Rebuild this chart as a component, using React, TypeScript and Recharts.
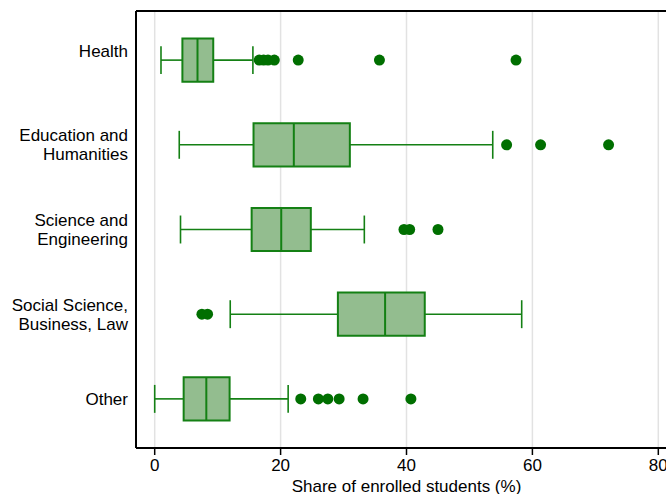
import React from "react";
import {
  ComposedChart,
  XAxis,
  YAxis,
  CartesianGrid,
  Scatter,
  ReferenceArea,
  ReferenceLine,
} from "recharts";

const categories = [
  "Health",
  "Education and Humanities",
  "Science and Engineering",
  "Social Science, Business, Law",
  "Other",
];
const labelLines: string[][] = [
  ["Health", ""],
  ["Education and", "Humanities"],
  ["Science and", "Engineering"],
  ["Social Science,", "Business, Law"],
  ["Other"],
];
const positions = [1, 2, 3, 4, 5];
const whiskerLow = [1.0, 3.9, 4.1, 12.0, 0.0];
const q1 = [4.4, 15.7, 15.4, 29.1, 4.6];
const median = [6.8, 22.1, 20.1, 36.6, 8.2];
const q3 = [9.3, 31.0, 24.8, 42.9, 11.9];
const whiskerHigh = [15.6, 53.7, 33.3, 58.3, 21.2];
const outliers: number[][] = [
  [16.6, 17.3, 18.0, 19.0, 22.8, 35.7, 57.4],
  [55.9, 61.3, 72.1],
  [39.6, 40.5, 45.0],
  [7.5, 8.4],
  [23.2, 26.0, 27.5, 29.3, 33.1, 40.7],
];
const xTicks = [0, 20, 40, 60, 80];
const xDomain: [number, number] = [-2.97, 82.97];
const yDomain: [number, number] = [0.42, 5.58];

const BOX_HALF = 0.255;
const CAP_HALF = 0.165;
const GREEN = "#148014";
const FILL = "#93bd8f";
const DOT = "#006f00";
const FONT = "'Liberation Sans', Arial, Helvetica, sans-serif";
const FS = 17;

const outlierData = outliers.flatMap((vals, i) =>
  vals.map((v) => ({ x: v, y: positions[i] }))
);

const YTick = (props: any) => {
  const { x, y, payload } = props;
  const idx = positions.indexOf(payload.value);
  const lines = idx >= 0 ? labelLines[idx] : [];
  const lh = 19;
  const startY = y - ((lines.length - 1) * lh) / 2;
  return (
    <text
      x={x}
      y={startY}
      textAnchor="end"
      fontFamily={FONT}
      fontSize={FS}
      fill="#000"
      dominantBaseline="central"
    >
      {lines.map((l, k) => (
        <tspan key={k} x={x} y={startY + k * lh} dominantBaseline="central">
          {l}
        </tspan>
      ))}
    </text>
  );
};

const Dot = (props: any) => {
  const { cx, cy } = props;
  return <circle cx={cx} cy={cy} r={5.5} fill={DOT} />;
};

export default function App() {
  return (
    <div
      style={{
        position: "absolute",
        left: 0,
        top: 0,
        width: 666,
        height: 494,
        overflow: "hidden",
        background: "#fff",
      }}
    >
      <ComposedChart
        width={690}
        height={494}
        margin={{ top: 11, right: 13, bottom: 0, left: 0 }}
      >
        <CartesianGrid
          horizontal={false}
          vertical={true}
          stroke="#e2e2e2"
          strokeWidth={1.5}
        />
        <XAxis
          type="number"
          dataKey="x"
          domain={xDomain}
          ticks={xTicks}
          allowDataOverflow
          height={46}
          axisLine={{ stroke: "#000", strokeWidth: 2 }}
          tickLine={{ stroke: "#000", strokeWidth: 1.5 }}
          tickSize={7}
          tickMargin={4}
          tick={{ fontFamily: FONT, fontSize: FS, fill: "#000" }}
          label={{
            value: "Share of enrolled students (%)",
            position: "insideBottom",
            offset: 2,
            fontFamily: FONT,
            fontSize: FS,
            fill: "#000",
          }}
        />
        <YAxis
          type="number"
          dataKey="y"
          domain={yDomain}
          ticks={positions}
          reversed
          allowDataOverflow
          width={136}
          axisLine={{ stroke: "#000", strokeWidth: 2 }}
          tickLine={false}
          tickMargin={2}
          tick={<YTick />}
        />
        <ReferenceLine
          y={yDomain[0]}
          stroke="#000"
          strokeWidth={2}
          ifOverflow="visible"
        />
        <ReferenceLine
          x={xDomain[1]}
          stroke="#000"
          strokeWidth={2}
          ifOverflow="visible"
        />
        {positions.map((p, i) => (
          <ReferenceLine
            key={"wl" + i}
            segment={[
              { x: whiskerLow[i], y: p },
              { x: q1[i], y: p },
            ]}
            stroke={GREEN}
            strokeWidth={1.6}
            ifOverflow="visible"
          />
        ))}
        {positions.map((p, i) => (
          <ReferenceLine
            key={"wh" + i}
            segment={[
              { x: q3[i], y: p },
              { x: whiskerHigh[i], y: p },
            ]}
            stroke={GREEN}
            strokeWidth={1.6}
            ifOverflow="visible"
          />
        ))}
        {positions.map((p, i) => (
          <ReferenceLine
            key={"cl" + i}
            segment={[
              { x: whiskerLow[i], y: p - CAP_HALF },
              { x: whiskerLow[i], y: p + CAP_HALF },
            ]}
            stroke={GREEN}
            strokeWidth={1.6}
            ifOverflow="visible"
          />
        ))}
        {positions.map((p, i) => (
          <ReferenceLine
            key={"ch" + i}
            segment={[
              { x: whiskerHigh[i], y: p - CAP_HALF },
              { x: whiskerHigh[i], y: p + CAP_HALF },
            ]}
            stroke={GREEN}
            strokeWidth={1.6}
            ifOverflow="visible"
          />
        ))}
        {positions.map((p, i) => (
          <ReferenceArea
            key={"box" + i}
            x1={q1[i]}
            x2={q3[i]}
            y1={p - BOX_HALF}
            y2={p + BOX_HALF}
            fill={FILL}
            fillOpacity={1}
            stroke={GREEN}
            strokeWidth={2}
            ifOverflow="visible"
          />
        ))}
        {positions.map((p, i) => (
          <ReferenceLine
            key={"med" + i}
            segment={[
              { x: median[i], y: p - BOX_HALF },
              { x: median[i], y: p + BOX_HALF },
            ]}
            stroke={GREEN}
            strokeWidth={2}
            ifOverflow="visible"
          />
        ))}
        <Scatter
          name="Outliers"
          data={outlierData}
          dataKey="y"
          shape={<Dot />}
          isAnimationActive={false}
        />
      </ComposedChart>
    </div>
  );
}
